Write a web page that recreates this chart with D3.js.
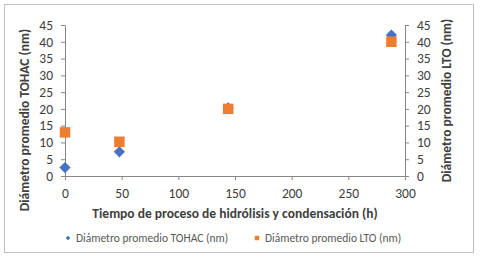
<!DOCTYPE html>
<html>
<head>
<meta charset="utf-8">
<script src="https://cdn.jsdelivr.net/npm/d3@7"></script>
<style>
  body { margin: 0; background: #fff; }
  text { font-family: Calibri, Carlito, "Liberation Sans", "DejaVu Sans", sans-serif; }
</style>
</head>
<body>
<svg id="chart"></svg>
<script>
// chart size
var width = 480;
var height = 260;

// data
var hours = [0, 48, 144, 288];
var tohac = [2.5, 7.2, 20.3, 42];   // left axis, blue diamonds
var lto = [13, 10.2, 20, 40];       // right axis, orange squares
var xTicks = [0, 50, 100, 150, 200, 250, 300];
var yTicks = [0, 5, 10, 15, 20, 25, 30, 35, 40, 45];

var blue = '#4472c4';
var orange = '#ed7d31';
var axisColor = '#868686';
var labelColor = '#404040';

var plot = {left: 65, right: 405, top: 25, bottom: 176};

var scaleX = d3.scaleLinear().domain([0, 300]).range([plot.left, plot.right]);
var scaleYL = d3.scaleLinear().domain([0, 45]).range([plot.bottom, plot.top]);
var scaleYR = d3.scaleLinear().domain([0, 45]).range([plot.bottom, plot.top]);

var svg = d3.select('#chart')
  .attr('width', width)
  .attr('height', height);

// outer frame
svg.append('rect')
  .attr('x', 4.5).attr('y', 4.5)
  .attr('width', 469).attr('height', 248)
  .attr('fill', '#fff')
  .attr('stroke', '#bfbfbf');

function styleAxis(g) {
  g.select('.domain').attr('stroke', axisColor);
  g.selectAll('.tick line').attr('stroke', axisColor);
  g.selectAll('.tick text')
    .attr('fill', labelColor)
    .style('font-size', '13.5px');
}

svg.append('g')
  .attr('transform', 'translate(0,' + plot.bottom + ')')
  .call(d3.axisBottom(scaleX).tickValues(xTicks).tickSize(4).tickSizeOuter(0).tickPadding(8))
  .call(styleAxis);

svg.append('g')
  .attr('transform', 'translate(' + plot.left + ',0)')
  .call(d3.axisLeft(scaleYL).tickValues(yTicks).tickSize(4).tickSizeOuter(0).tickPadding(8))
  .call(styleAxis);

svg.append('g')
  .attr('transform', 'translate(' + plot.right + ',0)')
  .call(d3.axisRight(scaleYR).tickValues(yTicks).tickSize(4).tickSizeOuter(0).tickPadding(8))
  .call(styleAxis);

// axis titles
svg.append('text')
  .attr('x', (plot.left + plot.right) / 2)
  .attr('y', 218)
  .attr('text-anchor', 'middle')
  .attr('fill', labelColor)
  .style('font-size', '13.5px')
  .style('font-weight', 'bold')
  .text('Tiempo de proceso de hidrólisis y condensación (h)');

svg.append('text')
  .attr('transform', 'translate(29,120) rotate(-90)')
  .attr('text-anchor', 'middle')
  .attr('fill', labelColor)
  .style('font-size', '13.5px')
  .style('font-weight', 'bold')
  .text('Diámetro promedio TOHAC (nm)');

svg.append('text')
  .attr('transform', 'translate(451,' + (plot.top + plot.bottom) / 2 + ') rotate(-90)')
  .attr('text-anchor', 'middle')
  .attr('fill', labelColor)
  .style('font-size', '13.5px')
  .style('font-weight', 'bold')
  .text('Diámetro promedio LTO (nm)');

// series
var diamond = d3.symbol().type(d3.symbolDiamond2).size(80);
var square = d3.symbol().type(d3.symbolSquare).size(110);

svg.append('g')
  .selectAll('path')
  .data(hours)
  .enter()
  .append('path')
    .attr('d', diamond)
    .attr('transform', (d, i) => 'translate(' + scaleX(d) + ',' + scaleYL(tohac[i]) + ')')
    .attr('fill', blue);

svg.append('g')
  .selectAll('path')
  .data(hours)
  .enter()
  .append('path')
    .attr('d', square)
    .attr('transform', (d, i) => 'translate(' + scaleX(d) + ',' + scaleYR(lto[i]) + ')')
    .attr('fill', orange);

// legend
var legend = [
  {name: 'Diámetro promedio TOHAC (nm)', color: blue, sym: d3.symbol().type(d3.symbolDiamond2).size(14), x: 68},
  {name: 'Diámetro promedio LTO (nm)', color: orange, sym: d3.symbol().type(d3.symbolSquare).size(20), x: 257}
];

var lg = svg.append('g')
  .selectAll('g')
  .data(legend)
  .enter()
  .append('g')
    .attr('transform', d => 'translate(' + d.x + ',238)');

lg.append('path')
  .attr('d', d => d.sym())
  .attr('fill', d => d.color);

lg.append('text')
  .attr('x', 8)
  .attr('y', 4)
  .attr('fill', '#595959')
  .style('font-size', '11.5px')
  .text(d => d.name);
</script>
</body>
</html>
